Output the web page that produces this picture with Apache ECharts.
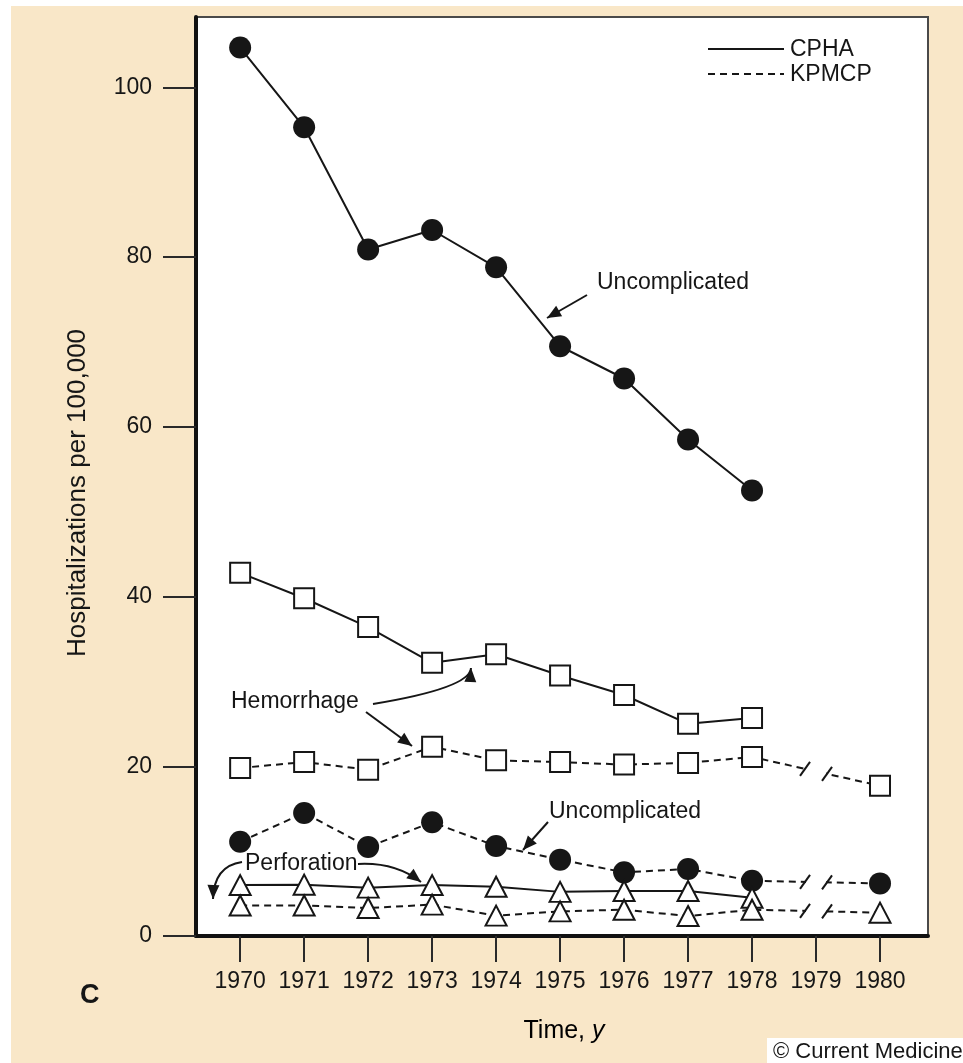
<!DOCTYPE html>
<html><head><meta charset="utf-8">
<script src="https://cdn.jsdelivr.net/npm/echarts@6/dist/echarts.min.js"></script>
<style>html,body{margin:0;padding:0;background:#fff}#c{width:963px;height:1063px}</style>
</head><body><div id="c"></div><script>
// ---- data ----
const yearsCPHA = [1970, 1971, 1972, 1973, 1974, 1975, 1976, 1977, 1978];
const yearsKPMCP = [1970, 1971, 1972, 1973, 1974, 1975, 1976, 1977, 1978, 1980];
const cphaUncomplicated = [104.7, 95.3, 80.9, 83.2, 78.8, 69.5, 65.7, 58.5, 52.5];
const cphaHemorrhage = [42.8, 39.8, 36.4, 32.2, 33.2, 30.7, 28.4, 25.0, 25.7];
const cphaPerforation = [6.0, 6.05, 5.7, 6.0, 5.8, 5.2, 5.3, 5.3, 4.5];
const kpmcpUncomplicated = [11.1, 14.5, 10.5, 13.4, 10.6, 9.0, 7.5, 7.9, 6.5, 6.2];
const kpmcpHemorrhage = [19.8, 20.5, 19.6, 22.3, 20.7, 20.5, 20.2, 20.4, 21.1, 17.7];
const kpmcpPerforation = [3.6, 3.6, 3.3, 3.7, 2.4, 2.9, 3.1, 2.35, 3.1, 2.75];
const xTicks = [1970, 1971, 1972, 1973, 1974, 1975, 1976, 1977, 1978, 1979, 1980];
const yTicks = [0, 20, 40, 60, 80, 100];
const breakYear = 1979;

// ---- styles ----
const FONT = '"Liberation Sans", Arial, Helvetica, sans-serif';
const INK = '#161616';
const BEIGE = '#f9e7c8';
const DASH = [7, 5];

const chart = echarts.init(document.getElementById('c'), null, {renderer: 'canvas'});

function lineSeries(name, xs, ys, symbol, dashed, filled) {
  return {
    type: 'line', name: name,
    data: xs.map((x, i) => [x, ys[i]]),
    symbol: symbol,
    symbolSize: symbol === 'circle' ? 22 : (symbol === 'rect' ? 20 : [21, 20]),
    showAllSymbol: true,
    lineStyle: {color: INK, width: 2, type: dashed ? DASH : 'solid'},
    itemStyle: {color: filled ? INK : '#fff', borderColor: INK, borderWidth: filled ? 0 : 2, opacity: 1},
    emphasis: {disabled: true},
    silent: true, animation: false
  };
}

const option = {
  backgroundColor: BEIGE,
  animation: false,
  grid: {left: 196, right: 35, top: 17, bottom: 127, show: true, backgroundColor: '#fff', borderColor: '#4a4a4a', borderWidth: 2},
  xAxis: {
    type: 'value', min: 1969.31, max: 1980.75,
    axisLine: {show: true, onZero: false, lineStyle: {color: '#111', width: 4}},
    axisTick: {show: true, length: 26, customValues: xTicks, lineStyle: {color: '#2a2a2a', width: 2}},
    axisLabel: {customValues: xTicks, margin: 34, fontSize: 23, color: INK, fontFamily: FONT, formatter: v => String(v)},
    splitLine: {show: false}
  },
  yAxis: {
    type: 'value', min: 0, max: 108.3,
    axisLine: {show: true, lineStyle: {color: '#111', width: 4}},
    axisTick: {show: true, length: 33, customValues: yTicks, lineStyle: {color: '#2a2a2a', width: 2}},
    axisLabel: {customValues: yTicks, margin: 44, fontSize: 23, color: INK, fontFamily: FONT, formatter: v => String(v)},
    splitLine: {show: false}
  },
  series: [
    lineSeries('CPHA Uncomplicated', yearsCPHA, cphaUncomplicated, 'circle', false, true),
    lineSeries('KPMCP Uncomplicated', yearsKPMCP, kpmcpUncomplicated, 'circle', true, true),
    lineSeries('CPHA Hemorrhage', yearsCPHA, cphaHemorrhage, 'rect', false, false),
    lineSeries('KPMCP Hemorrhage', yearsKPMCP, kpmcpHemorrhage, 'rect', true, false),
    lineSeries('CPHA Perforation', yearsCPHA, cphaPerforation, 'triangle', false, false),
    lineSeries('KPMCP Perforation', yearsKPMCP, kpmcpPerforation, 'triangle', true, false)
  ]
};
chart.setOption(option);

// ---- annotations ----
const g = [];
function txt(x, y, text, size, extra) {
  g.push({type: 'text', x: x, y: y, z: 100, silent: true,
    style: Object.assign({text: text, fontSize: size, fontFamily: FONT, fill: INK, align: 'left', verticalAlign: 'middle'}, extra || {})});
}
function head(tx, ty, fx, fy, L, W) {
  L = L || 14; W = W || 6;
  const dx = tx - fx, dy = ty - fy, n = Math.hypot(dx, dy);
  const ux = dx / n, uy = dy / n;
  const bx = tx - ux * L, by = ty - uy * L;
  g.push({type: 'polygon', z: 101, silent: true,
    shape: {points: [[tx, ty], [bx - uy * W, by + ux * W], [bx + uy * W, by - ux * W]]},
    style: {fill: INK}});
}
function straightArrow(x1, y1, x2, y2) {
  g.push({type: 'line', z: 100, silent: true, shape: {x1: x1, y1: y1, x2: x2, y2: y2}, style: {stroke: INK, lineWidth: 2}});
  head(x2, y2, x1, y1);
}
function curveArrow(x1, y1, cx, cy, x2, y2) {
  g.push({type: 'bezierCurve', z: 100, silent: true, shape: {x1: x1, y1: y1, cpx1: cx, cpy1: cy, x2: x2, y2: y2},
    style: {stroke: INK, lineWidth: 2, fill: null}});
  head(x2, y2, cx, cy);
}

// white strips at image edge
g.push({type: 'rect', z: 100, silent: true, shape: {x: 0, y: 0, width: 963, height: 6}, style: {fill: '#fff'}});
g.push({type: 'rect', z: 100, silent: true, shape: {x: 0, y: 0, width: 11, height: 1063}, style: {fill: '#fff'}});

// legend
g.push({type: 'line', z: 100, silent: true, shape: {x1: 708, y1: 49, x2: 784, y2: 49}, style: {stroke: INK, lineWidth: 2}});
g.push({type: 'line', z: 100, silent: true, shape: {x1: 708, y1: 74, x2: 784, y2: 74}, style: {stroke: INK, lineWidth: 2, lineDash: DASH}});
txt(790, 50, 'CPHA', 23);
txt(790, 75, 'KPMCP', 23);

// labels + arrows
txt(597, 283, 'Uncomplicated', 23);
straightArrow(587, 295, 547, 318);
txt(231, 702, 'Hemorrhage', 23);
curveArrow(373, 704, 470, 688, 471, 668);
straightArrow(366, 712, 412, 746);
txt(549, 812, 'Uncomplicated', 23);
straightArrow(548, 822, 523, 850);
txt(245, 864, 'Perforation', 23);
curveArrow(242, 862, 214, 866, 213, 899);
curveArrow(358, 864, 395, 862, 421, 882);

// axis titles and panel letter
g.push({type: 'text', x: 78, y: 493, rotation: Math.PI / 2, z: 100, silent: true,
  style: {text: 'Hospitalizations per 100,000', fontSize: 26, fontFamily: FONT, fill: INK, align: 'center', verticalAlign: 'middle'}});
g.push({type: 'text', x: 564, y: 1031, z: 100, silent: true,
  style: {text: '{a|Time, }{b|y}', align: 'center', verticalAlign: 'middle',
    rich: {a: {fontSize: 25, fontFamily: FONT, color: INK}, b: {fontSize: 25, fontFamily: FONT, color: INK, fontStyle: 'italic'}}}});
txt(80, 996, 'C', 27, {fontWeight: 'bold'});

// copyright
g.push({type: 'rect', z: 100, silent: true, shape: {x: 767, y: 1038, width: 196, height: 25}, style: {fill: '#fff'}});
txt(773, 1052, '\u00a9 Current Medicine', 22);

// axis breaks at 1979 on the KPMCP series
[kpmcpUncomplicated, kpmcpHemorrhage, kpmcpPerforation].forEach(arr => {
  const n = arr.length;
  const pA = chart.convertToPixel({gridIndex: 0}, [yearsKPMCP[n - 2], arr[n - 2]]);
  const pB = chart.convertToPixel({gridIndex: 0}, [yearsKPMCP[n - 1], arr[n - 1]]);
  const xb = chart.convertToPixel({gridIndex: 0}, [breakYear, 0])[0];
  const t = (xb - pA[0]) / (pB[0] - pA[0]);
  const yb = pA[1] + (pB[1] - pA[1]) * t;
  g.push({type: 'rect', z: 100, silent: true, shape: {x: xb - 10, y: yb - 6, width: 20, height: 12}, style: {fill: '#fff'}});
  [-11, 11].forEach(off => {
    const sx = xb + off;
    const sy = pA[1] + (pB[1] - pA[1]) * ((sx - pA[0]) / (pB[0] - pA[0]));
    g.push({type: 'line', z: 101, silent: true, shape: {x1: sx - 5, y1: sy + 7, x2: sx + 5, y2: sy - 7}, style: {stroke: INK, lineWidth: 2}});
  });
});

chart.setOption({graphic: {elements: g}});
</script></body></html>
